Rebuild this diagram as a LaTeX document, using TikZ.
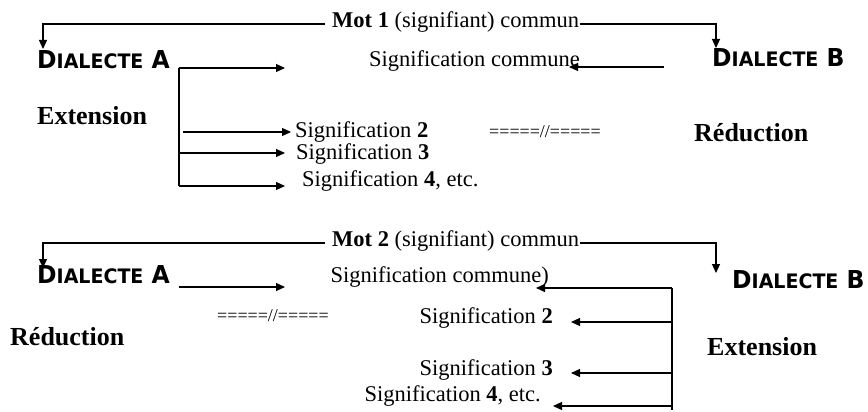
\documentclass[tikz,border=0pt]{standalone}
\usepackage{fontspec}
\usepackage{graphicx}
\setmainfont{Liberation Serif}
\newfontfamily\dialfont{DejaVu Sans}
\usetikzlibrary{arrows.meta}
\newcommand{\dialtxt}[1]{\scalebox{1.0}[1.05]{\dialfont\bfseries\fontsize{23.5}{24}\selectfont D\fontsize{19}{19}\selectfont IALECTE\fontsize{23.5}{24}\selectfont\ #1}}
\tikzset{
  arr/.style={-{Triangle[length=9pt,width=8pt]}, line width=1.2pt},
  ln/.style={line width=1.2pt},
  sig/.style={inner sep=0pt, font=\fontsize{22.5}{27}\selectfont},
  lab/.style={inner sep=0pt, font=\fontsize{26}{30}\selectfont\bfseries},
  dial/.style={inner sep=0pt},
  eqs/.style={inner sep=0pt, font=\fontsize{18}{20}\selectfont}
}
\begin{document}
\begin{tikzpicture}[x=1pt,y=-1pt]
\useasboundingbox (0,0) rectangle (868,412);
% ---------- Row 1 ----------
\node[sig, anchor=west] (mot1) at (332,22) {\textbf{Mot 1} (signifiant) commun};
\node[dial, anchor=west] (dA1) at (37,60) {\dialtxt{A}};
\node[dial, anchor=west] (dB1) at (712,58) {\dialtxt{B}};
\node[sig, anchor=east] (sc1) at (580,61) {Signification commune};
\node[lab, anchor=west] (ext1) at (37,116) {Extension};
\node[sig, anchor=west] (s12) at (295,132) {Signification \textbf{2}};
\node[eqs, anchor=west] (eq1) at (489,132) {=====//=====};
\node[lab, anchor=west] (red1) at (694,133) {Réduction};
\node[sig, anchor=west] (s13) at (296,154) {Signification \textbf{3}};
\node[sig, anchor=west] (s14) at (302,181) {Signification \textbf{4}, etc.};

\coordinate (L1) at (43,24);
\coordinate (L1t) at (43,49);
\coordinate (R1) at (716,24);
\coordinate (R1t) at (716,48);
\draw[arr] ([shift={(-7,2)}]mot1.west) -- (L1) -- (L1t);
\draw[arr] ([shift={(1,2)}]mot1.east) -- (R1) -- (R1t);

\coordinate (S1) at (664,67);
\coordinate (S1t) at (569,67);
\draw[arr] (S1) -- (S1t);

\coordinate (B1) at (179,68);
\coordinate (B1t) at (285,68);
\coordinate (B1b) at (179,186);
\coordinate (B1bt) at (285,186);
\coordinate (B12) at (183,132);
\coordinate (B12t) at (291,132);
\coordinate (B13) at (179,153);
\coordinate (B13t) at (285,153);
\draw[ln] (B1) -- (B1b);
\draw[arr] (B1) -- (B1t);
\draw[arr] (B12) -- (B12t);
\draw[arr] (B13) -- (B13t);
\draw[arr] (B1b) -- (B1bt);

% ---------- Row 2 ----------
\node[sig, anchor=west] (mot2) at (332,241) {\textbf{Mot 2} (signifiant) commun};
\node[dial, anchor=west] (dA2) at (37,275) {\dialtxt{A}};
\node[dial, anchor=west] (dB2) at (732,280) {\dialtxt{B}};
\node[sig, anchor=east] (sc2) at (549,277) {Signification commune)};
\node[eqs, anchor=west] (eq2) at (217,316) {=====//=====};
\node[lab, anchor=west] (red2) at (10,337) {Réduction};
\node[lab, anchor=west] (ext2) at (707,347) {Extension};
\node[sig, anchor=east] (s22) at (553,318) {Signification \textbf{2}};
\node[sig, anchor=east] (s23) at (553,370) {Signification \textbf{3}};
\node[sig, anchor=east] (s24) at (541,396) {Signification \textbf{4}, etc.};

\coordinate (L2) at (43,243);
\coordinate (L2t) at (43,268);
\coordinate (R2) at (716,243);
\coordinate (R2t) at (716,273);
\draw[arr] ([shift={(-7,2)}]mot2.west) -- (L2) -- (L2t);
\draw[arr] ([shift={(1,2)}]mot2.east) -- (R2) -- (R2t);

\coordinate (A2) at (179,287);
\coordinate (A2t) at (285,287);
\draw[arr] (A2) -- (A2t);

\coordinate (V2) at (672,288);
\coordinate (V2b) at (672,410);
\coordinate (V2t) at (536,288);
\coordinate (V22) at (672,322);
\coordinate (V22t) at (571,322);
\coordinate (V23) at (672,373);
\coordinate (V23t) at (571,373);
\coordinate (V24) at (672,406);
\coordinate (V24t) at (553,406);
\draw[ln] (V2) -- (V2b);
\draw[arr] (V2) -- (V2t);
\draw[arr] (V22) -- (V22t);
\draw[arr] (V23) -- (V23t);
\draw[arr] (V24) -- (V24t);
\end{tikzpicture}
\end{document}
